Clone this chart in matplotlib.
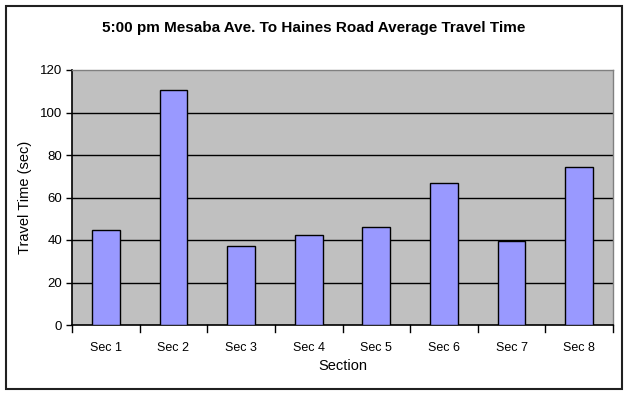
import matplotlib
matplotlib.use("Agg")
import matplotlib.pyplot as plt
from matplotlib.patches import Rectangle

categories = ["Sec 1", "Sec 2", "Sec 3", "Sec 4", "Sec 5", "Sec 6", "Sec 7", "Sec 8"]
travel_time = [44.7, 110.6, 37.2, 42.5, 46.0, 66.8, 39.5, 74.2]
y_ticks = [0, 20, 40, 60, 80, 100, 120]

plt.rcParams['font.family'] = ['Liberation Sans', 'DejaVu Sans']

W, H = 628, 394
fig = plt.figure(figsize=(W / 100, H / 100), dpi=100)
fig.patch.set_facecolor('white')

# outer frame
fig.patches.append(Rectangle((6 / W, 1 - 389 / H), 616 / W, 383 / H, transform=fig.transFigure,
                             fill=False, edgecolor='#202020', linewidth=1.5))

left, right, top, bottom = 72, 613, 70, 325
ax = fig.add_axes([left / W, 1 - bottom / H, (right - left) / W, (bottom - top) / H])
ax.set_facecolor('#C0C0C0')

x = list(range(len(categories)))
ax.bar(x, travel_time, width=0.41, color='#9999FF', edgecolor='black', linewidth=1.0, zorder=3)

ax.set_xlim(-0.5, len(categories) - 0.5)
ax.set_ylim(0, 120)
ax.set_yticks(y_ticks)
ax.set_yticklabels([str(v) for v in y_ticks], fontsize=9.5)
ax.set_xticks(x)
ax.set_xticklabels(categories, fontsize=9)
ax.tick_params(axis='x', length=0, pad=12)
ax.tick_params(axis='y', length=4, width=1, direction='out', pad=3)
for v in [i + 0.5 for i in range(-1, len(categories))]:
    ax.plot([v, v], [0, -3.5], color='black', linewidth=1, clip_on=False, zorder=4)

for v in y_ticks[1:-1]:
    ax.axhline(v, color='black', linewidth=1.0, zorder=2)

for s in ['top', 'right']:
    ax.spines[s].set_color('#808080')
    ax.spines[s].set_linewidth(1)
for s in ['left', 'bottom']:
    ax.spines[s].set_color('black')
    ax.spines[s].set_linewidth(1.2)

ax.set_xlabel("Section", fontsize=10.5, labelpad=4)
ax.set_ylabel("Travel Time (sec)", fontsize=10.5, labelpad=6)

fig.text(0.5, 1 - 28 / H, "5:00 pm Mesaba Ave. To Haines Road Average Travel Time",
         ha='center', va='center', fontsize=11, fontweight='bold')

fig.savefig("out.png", dpi=100)
